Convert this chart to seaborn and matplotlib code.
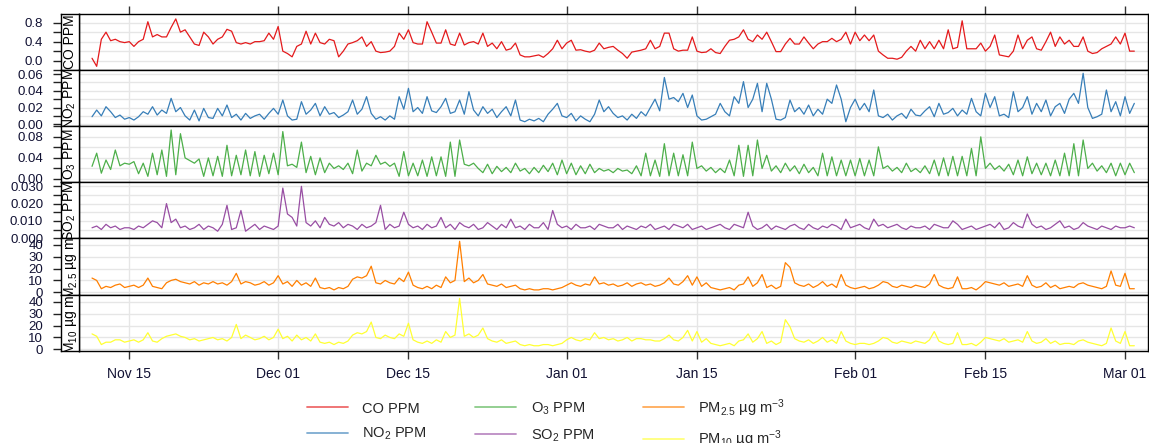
import numpy as np
import pandas as pd
import matplotlib
matplotlib.use("Agg")
import matplotlib.pyplot as plt
from matplotlib.lines import Line2D
import seaborn as sns

# ---------------- data (12-hourly values) ----------------
start = "2015-11-11"

co = [0.05, -0.12, 0.45, 0.60, 0.42, 0.45, 0.40, 0.38, 0.40, 0.30,
      0.40, 0.45, 0.82, 0.50, 0.55, 0.50, 0.50, 0.70, 0.88, 0.60,
      0.65, 0.50, 0.35, 0.32, 0.60, 0.50, 0.35, 0.45, 0.50, 0.66,
      0.62, 0.38, 0.35, 0.38, 0.35, 0.40, 0.40, 0.42, 0.58, 0.45,
      0.72, 0.20, 0.15, 0.08, 0.30, 0.35, 0.62, 0.35, 0.58, 0.38,
      0.35, 0.45, 0.42, 0.08, 0.20, 0.35, 0.38, 0.42, 0.50, 0.30,
      0.40, 0.20, 0.17, 0.18, 0.20, 0.30, 0.58, 0.45, 0.65, 0.38,
      0.35, 0.35, 0.82, 0.60, 0.37, 0.37, 0.65, 0.35, 0.32, 0.58,
      0.33, 0.38, 0.40, 0.35, 0.58, 0.30, 0.37, 0.25, 0.40, 0.22,
      0.25, 0.37, 0.12, 0.08, 0.08, 0.10, 0.12, 0.07, 0.15, 0.25,
      0.43, 0.25, 0.37, 0.43, 0.22, 0.23, 0.20, 0.18, 0.22, 0.37,
      0.25, 0.28, 0.30, 0.22, 0.15, 0.05, 0.18, 0.20, 0.22, 0.25,
      0.43, 0.25, 0.30, 0.58, 0.58, 0.25, 0.20, 0.22, 0.22, 0.50,
      0.20, 0.17, 0.18, 0.25, 0.17, 0.15, 0.30, 0.43, 0.45, 0.50,
      0.65, 0.45, 0.40, 0.54, 0.45, 0.60, 0.40, 0.19, 0.19, 0.35,
      0.47, 0.35, 0.35, 0.50, 0.37, 0.25, 0.35, 0.40, 0.40, 0.47,
      0.40, 0.45, 0.60, 0.35, 0.60, 0.42, 0.54, 0.42, 0.54, 0.20,
      0.12, 0.05, 0.05, 0.03, 0.07, 0.20, 0.30, 0.20, 0.43, 0.25,
      0.40, 0.25, 0.43, 0.25, 0.65, 0.25, 0.28, 0.84, 0.25, 0.25,
      0.25, 0.37, 0.20, 0.30, 0.54, 0.12, 0.10, 0.08, 0.20, 0.54,
      0.25, 0.43, 0.50, 0.25, 0.22, 0.40, 0.60, 0.30, 0.50, 0.35,
      0.43, 0.30, 0.30, 0.50, 0.20, 0.15, 0.17, 0.25, 0.30, 0.35,
      0.50, 0.35, 0.58, 0.20, 0.20]

no2 = [0.009, 0.017, 0.010, 0.021, 0.015, 0.008, 0.011, 0.006, 0.008, 0.005,
       0.009, 0.015, 0.012, 0.021, 0.011, 0.017, 0.013, 0.031, 0.015, 0.020,
       0.010, 0.005, 0.017, 0.004, 0.019, 0.008, 0.007, 0.019, 0.010, 0.023,
       0.008, 0.012, 0.005, 0.013, 0.007, 0.010, 0.012, 0.006, 0.013, 0.019,
       0.012, 0.029, 0.010, 0.005, 0.006, 0.027, 0.012, 0.017, 0.025, 0.010,
       0.021, 0.012, 0.014, 0.008, 0.011, 0.015, 0.029, 0.012, 0.018, 0.033,
       0.013, 0.006, 0.009, 0.005, 0.010, 0.006, 0.033, 0.018, 0.043, 0.015,
       0.020, 0.013, 0.033, 0.016, 0.014, 0.021, 0.031, 0.013, 0.015, 0.029,
       0.012, 0.039, 0.017, 0.010, 0.021, 0.013, 0.018, 0.008, 0.015, 0.021,
       0.010, 0.029, 0.005, 0.003, 0.006, 0.004, 0.007, 0.003, 0.012, 0.018,
       0.025, 0.010, 0.008, 0.013, 0.004, 0.010, 0.006, 0.003, 0.012, 0.029,
       0.015, 0.021, 0.013, 0.008, 0.010, 0.005, 0.012, 0.007, 0.015, 0.010,
       0.020, 0.030, 0.016, 0.056, 0.030, 0.032, 0.027, 0.037, 0.020, 0.035,
       0.010, 0.005, 0.006, 0.009, 0.012, 0.025, 0.015, 0.010, 0.033, 0.025,
       0.051, 0.020, 0.030, 0.049, 0.015, 0.049, 0.030, 0.006, 0.005, 0.008,
       0.029, 0.015, 0.020, 0.012, 0.023, 0.010, 0.018, 0.012, 0.030, 0.025,
       0.047, 0.030, 0.003, 0.020, 0.030, 0.017, 0.025, 0.015, 0.041, 0.010,
       0.008, 0.012, 0.005, 0.010, 0.013, 0.007, 0.018, 0.011, 0.010, 0.016,
       0.021, 0.009, 0.025, 0.012, 0.014, 0.019, 0.010, 0.017, 0.012, 0.031,
       0.015, 0.010, 0.037, 0.020, 0.033, 0.010, 0.012, 0.008, 0.039, 0.015,
       0.020, 0.033, 0.012, 0.025, 0.015, 0.029, 0.010, 0.021, 0.025, 0.013,
       0.030, 0.037, 0.025, 0.061, 0.020, 0.007, 0.009, 0.012, 0.041, 0.015,
       0.027, 0.010, 0.033, 0.013, 0.025]

o3 = [0.024, 0.049, 0.011, 0.036, 0.018, 0.055, 0.025, 0.030, 0.028, 0.033,
      0.010, 0.030, 0.005, 0.049, 0.008, 0.055, 0.005, 0.093, 0.008, 0.086,
      0.040, 0.035, 0.030, 0.038, 0.005, 0.040, 0.006, 0.043, 0.005, 0.064,
      0.006, 0.045, 0.008, 0.055, 0.006, 0.052, 0.005, 0.045, 0.010, 0.049,
      0.008, 0.090, 0.025, 0.028, 0.022, 0.070, 0.012, 0.043, 0.008, 0.040,
      0.012, 0.030, 0.020, 0.025, 0.018, 0.030, 0.010, 0.055, 0.015, 0.030,
      0.025, 0.045, 0.028, 0.032, 0.024, 0.030, 0.005, 0.052, 0.006, 0.030,
      0.006, 0.036, 0.005, 0.042, 0.006, 0.042, 0.005, 0.070, 0.005, 0.074,
      0.028, 0.025, 0.030, 0.020, 0.012, 0.028, 0.010, 0.024, 0.014, 0.022,
      0.012, 0.030, 0.015, 0.020, 0.010, 0.022, 0.012, 0.026, 0.014, 0.030,
      0.008, 0.036, 0.010, 0.030, 0.008, 0.025, 0.010, 0.028, 0.012, 0.020,
      0.015, 0.018, 0.012, 0.020, 0.015, 0.017, 0.010, 0.025, 0.006, 0.049,
      0.006, 0.036, 0.005, 0.067, 0.006, 0.049, 0.006, 0.046, 0.006, 0.070,
      0.020, 0.025, 0.015, 0.022, 0.012, 0.020, 0.012, 0.036, 0.006, 0.064,
      0.005, 0.064, 0.006, 0.074, 0.020, 0.045, 0.015, 0.025, 0.012, 0.030,
      0.015, 0.025, 0.010, 0.028, 0.012, 0.022, 0.006, 0.049, 0.006, 0.042,
      0.006, 0.036, 0.006, 0.036, 0.006, 0.039, 0.006, 0.036, 0.006, 0.061,
      0.020, 0.025, 0.015, 0.022, 0.012, 0.030, 0.014, 0.020, 0.012, 0.025,
      0.010, 0.036, 0.006, 0.040, 0.006, 0.043, 0.006, 0.043, 0.006, 0.058,
      0.006, 0.080, 0.020, 0.030, 0.018, 0.025, 0.015, 0.028, 0.008, 0.036,
      0.006, 0.042, 0.010, 0.030, 0.008, 0.030, 0.006, 0.036, 0.006, 0.049,
      0.006, 0.067, 0.006, 0.074, 0.020, 0.030, 0.015, 0.025, 0.012, 0.030,
      0.006, 0.030, 0.008, 0.030, 0.012]

so2 = [0.006, 0.007, 0.005, 0.008, 0.006, 0.007, 0.005, 0.006, 0.006, 0.005,
       0.007, 0.006, 0.008, 0.010, 0.009, 0.006, 0.020, 0.009, 0.011, 0.006,
       0.007, 0.005, 0.006, 0.008, 0.005, 0.007, 0.006, 0.004, 0.008, 0.019,
       0.005, 0.006, 0.016, 0.004, 0.006, 0.008, 0.005, 0.007, 0.006, 0.005,
       0.007, 0.029, 0.014, 0.012, 0.007, 0.030, 0.009, 0.007, 0.010, 0.006,
       0.012, 0.008, 0.007, 0.009, 0.006, 0.008, 0.007, 0.005, 0.008, 0.006,
       0.007, 0.009, 0.019, 0.005, 0.008, 0.006, 0.007, 0.015, 0.008, 0.006,
       0.007, 0.005, 0.008, 0.006, 0.007, 0.012, 0.006, 0.008, 0.005, 0.009,
       0.007, 0.006, 0.008, 0.005, 0.006, 0.009, 0.007, 0.005, 0.008, 0.006,
       0.011, 0.006, 0.007, 0.005, 0.008, 0.006, 0.006, 0.009, 0.005, 0.016,
       0.008, 0.006, 0.007, 0.005, 0.008, 0.006, 0.006, 0.007, 0.005, 0.008,
       0.007, 0.006, 0.006, 0.008, 0.005, 0.007, 0.006, 0.005, 0.007, 0.006,
       0.008, 0.005, 0.006, 0.007, 0.005, 0.008, 0.007, 0.006, 0.008, 0.005,
       0.006, 0.007, 0.005, 0.006, 0.007, 0.008, 0.006, 0.005, 0.008, 0.007,
       0.006, 0.015, 0.007, 0.005, 0.006, 0.008, 0.005, 0.007, 0.006, 0.005,
       0.007, 0.008, 0.006, 0.005, 0.008, 0.006, 0.005, 0.007, 0.006, 0.008,
       0.007, 0.005, 0.011, 0.006, 0.007, 0.008, 0.006, 0.005, 0.011, 0.007,
       0.008, 0.006, 0.007, 0.008, 0.006, 0.005, 0.007, 0.006, 0.006, 0.007,
       0.005, 0.008, 0.007, 0.006, 0.006, 0.010, 0.008, 0.005, 0.006, 0.007,
       0.005, 0.006, 0.007, 0.008, 0.006, 0.009, 0.005, 0.006, 0.009, 0.007,
       0.006, 0.014, 0.008, 0.006, 0.007, 0.005, 0.006, 0.008, 0.010, 0.006,
       0.007, 0.005, 0.006, 0.009, 0.007, 0.006, 0.005, 0.007, 0.006, 0.005,
       0.007, 0.006, 0.006, 0.007, 0.006]

pm25 = [12, 10, 3, 5, 4, 6, 7, 4, 5, 6,
        4, 6, 12, 5, 4, 3, 8, 10, 11, 9,
        8, 7, 9, 6, 8, 7, 9, 7, 8, 6,
        9, 16, 7, 9, 8, 6, 7, 9, 6, 8,
        14, 7, 9, 5, 10, 6, 8, 5, 12, 4,
        3, 4, 2, 4, 3, 5, 11, 13, 12, 14,
        22, 8, 7, 10, 8, 7, 12, 9, 17, 6,
        4, 3, 5, 3, 6, 4, 13, 8, 10, 43,
        9, 12, 8, 10, 15, 7, 6, 5, 7, 4,
        5, 6, 3, 2, 3, 2, 2, 3, 3, 2,
        3, 4, 6, 8, 6, 5, 7, 6, 13, 7,
        8, 6, 7, 5, 6, 8, 5, 7, 8, 6,
        7, 5, 6, 8, 12, 7, 6, 9, 14, 6,
        13, 5, 8, 4, 3, 2, 3, 4, 2, 6,
        7, 13, 5, 8, 15, 4, 6, 3, 5, 25,
        21, 8, 6, 5, 7, 4, 6, 9, 5, 7,
        4, 15, 6, 4, 3, 4, 5, 3, 4, 6,
        9, 8, 5, 4, 6, 5, 4, 6, 5, 4,
        7, 15, 6, 4, 3, 4, 13, 3, 3, 4,
        2, 5, 9, 8, 7, 6, 8, 5, 6, 7,
        5, 14, 6, 4, 5, 8, 4, 6, 3, 4,
        5, 4, 7, 8, 6, 5, 4, 3, 5, 18,
        6, 5, 16, 3, 3]

pm10 = [13, 11, 4, 6, 6, 8, 8, 6, 7, 8,
        6, 8, 14, 7, 6, 9, 11, 12, 13, 11,
        10, 8, 9, 7, 8, 9, 10, 8, 9, 7,
        10, 21, 9, 12, 10, 8, 9, 11, 8, 10,
        17, 9, 11, 7, 12, 8, 10, 7, 13, 6,
        5, 6, 4, 6, 5, 7, 12, 14, 13, 15,
        23, 10, 9, 12, 10, 9, 13, 11, 22, 8,
        6, 5, 7, 5, 8, 6, 15, 10, 12, 43,
        11, 13, 10, 12, 18, 9, 7, 6, 8, 5,
        6, 7, 4, 3, 4, 3, 3, 4, 4, 3,
        4, 5, 8, 10, 8, 7, 9, 8, 14, 9,
        10, 8, 9, 7, 8, 10, 7, 9, 9, 8,
        8, 7, 7, 9, 12, 8, 7, 10, 16, 7,
        15, 6, 9, 5, 4, 3, 4, 5, 3, 7,
        8, 13, 6, 9, 15, 5, 7, 4, 6, 25,
        19, 9, 7, 6, 8, 5, 7, 10, 6, 8,
        5, 15, 7, 5, 4, 5, 5, 4, 5, 7,
        10, 9, 6, 5, 7, 6, 5, 7, 6, 5,
        8, 15, 7, 5, 4, 5, 14, 4, 4, 5,
        3, 6, 10, 9, 8, 7, 9, 6, 7, 8,
        6, 15, 7, 5, 6, 9, 5, 7, 4, 5,
        5, 4, 7, 8, 6, 5, 4, 3, 5, 18,
        7, 5, 15, 3, 3]

series_labels = ["CO PPM", "NO$_2$ PPM", "O$_3$ PPM", "SO$_2$ PPM",
                 "PM$_{2.5}$ µg m$^{-3}$", "PM$_{10}$ µg m$^{-3}$"]
tick_dates = ["2015-11-15", "2015-12-01", "2015-12-15", "2016-01-01",
              "2016-01-15", "2016-02-01", "2016-02-15", "2016-03-01"]
tick_texts = ["Nov 15", "Dec 01", "Dec 15", "Jan 01", "Jan 15", "Feb 01", "Feb 15", "Mar 01"]

# ---------------- styling ----------------
sns.set_theme(style="white")
plt.rcParams["font.family"] = ["Liberation Sans", "DejaVu Sans"]
plt.rcParams["mathtext.fontset"] = "custom"
plt.rcParams["mathtext.rm"] = "Liberation Sans"
plt.rcParams["mathtext.it"] = "Liberation Sans:italic"
plt.rcParams["mathtext.bf"] = "Liberation Sans:bold"
plt.rcParams["mathtext.default"] = "regular"

colors = sns.color_palette("Set1", 6)
colors = [colors[0], colors[1], colors[2], colors[3], colors[4], colors[5]]

dates = pd.date_range(start, periods=len(co), freq="12h")
df = pd.DataFrame({"date": dates, "co": co, "no2": no2, "o3": o3,
                   "so2": so2, "pm25": pm25, "pm10": pm10})

cols = ["co", "no2", "o3", "so2", "pm25", "pm10"]
ylims = [(-0.196, 0.983), (-0.0024, 0.0648), (-0.0064, 0.1001),
         (-0.0002, 0.0323), (-1.96, 45.4), (-1.2, 46.2)]
ticks_all = [np.round(np.arange(-0.2, 0.81, 0.2), 3),
             np.round(np.arange(0, 0.061, 0.01), 3),
             np.round(np.arange(0, 0.101, 0.02), 3),
             np.round(np.arange(0, 0.0301, 0.005), 4),
             np.arange(0, 41, 10),
             np.arange(0, 41, 10)]
labeled = [{0.0: "0.0", 0.4: "0.4", 0.8: "0.8"},
           {0.0: "0.00", 0.02: "0.02", 0.04: "0.04", 0.06: "0.06"},
           {0.0: "0.00", 0.04: "0.04", 0.08: "0.08"},
           {0.0: "0.000", 0.01: "0.010", 0.02: "0.020", 0.03: "0.030"},
           {0: "0", 10: "10", 20: "20", 30: "30", 40: "40"},
           {0: "0", 10: "10", 20: "20", 30: "30", 40: "40"}]

W, H = 1149, 443
fig = plt.figure(figsize=(W / 100, H / 100), dpi=100)
fig.patch.set_facecolor("white")

top0, ph = 14.0, 56.12
strip_l, strip_r = 61.0, 79.3
main_r = 1147.7
xmin = pd.Timestamp("2015-11-09 15:10")
xmax = pd.Timestamp("2016-03-03 10:30")
txt_col = "#111133"
grid_col = "#E6E6E6"

for i, col in enumerate(cols):
    top = top0 + i * ph
    y0 = 1 - (top + ph) / H
    ax = fig.add_axes([strip_r / W, y0, (main_r - strip_r) / W, ph / H])
    axs = fig.add_axes([strip_l / W, y0, (strip_r - strip_l) / W, ph / H])

    sns.lineplot(data=df, x="date", y=col, ax=ax, color=colors[i],
                 linewidth=0.9, legend=False)
    ax.set_xlabel("")
    ax.set_ylabel("")
    ax.set_xlim(xmin, xmax)
    ax.set_ylim(*ylims[i])
    ax.set_facecolor("white")
    tks = ticks_all[i]
    ax.set_yticks(tks)
    ax.set_xticks([pd.Timestamp(d) for d in tick_dates])
    ax.grid(True, color=grid_col, linewidth=1.0)
    ax.set_axisbelow(True)
    ax.tick_params(axis="y", left=False, right=False, labelleft=False, length=0)
    if i == len(cols) - 1:
        ax.set_xticklabels(tick_texts)
        ax.tick_params(axis="x", bottom=True, top=False, length=5.8, width=1.0,
                       color="#333333", labelsize=10, labelcolor=txt_col, pad=6)
    elif i == 0:
        ax.tick_params(axis="x", bottom=False, top=True, labelbottom=False,
                       length=5.8, width=1.0, color="#333333")
    else:
        ax.tick_params(axis="x", bottom=False, top=False, labelbottom=False)
    for s in ax.spines.values():
        s.set_color("black")
        s.set_linewidth(1.0)
        s.set_visible(True)

    # left strip with the variable name and the y axis ticks
    axs.set_facecolor("white")
    axs.set_ylim(*ylims[i])
    axs.set_xticks([])
    axs.set_yticks(tks)
    lab = labeled[i]
    tl = []
    for t in tks:
        key = None
        for k in lab:
            if abs(float(t) - k) < 1e-9:
                key = k
        tl.append(lab[key] if key is not None else "")
    axs.set_yticklabels(tl)
    axs.tick_params(axis="y", left=True, length=5.8, width=1.0, color="#222222",
                    labelsize=9.5, labelcolor=txt_col, pad=7)
    for s in axs.spines.values():
        s.set_color("black")
        s.set_linewidth(1.0)
        s.set_visible(True)
    axs.text(0.5, 0.5, series_labels[i], rotation=90, transform=axs.transAxes,
             ha="center", va="center", fontsize=10, color="black", clip_on=True)

handles = [Line2D([0], [0], color=colors[k], lw=1.3, alpha=0.65) for k in range(6)]
fig.legend(handles, series_labels, loc="upper left",
           bbox_to_anchor=(307 / W, 1 - 397 / H), ncol=3, frameon=False,
           fontsize=10.5, handlelength=2.8, handletextpad=1.0,
           columnspacing=3.3, labelspacing=0.7, borderpad=0, borderaxespad=0)

fig.savefig("out.png", dpi=100, facecolor="white")
